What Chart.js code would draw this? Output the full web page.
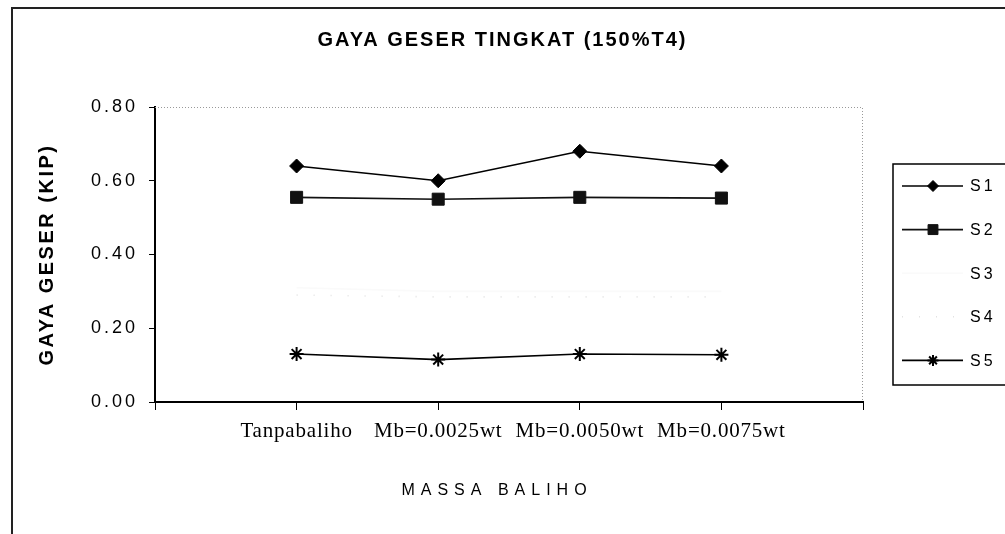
<!DOCTYPE html>
<html>
<head>
<meta charset="utf-8">
<script src="https://cdn.jsdelivr.net/npm/chart.js@4.4.1/dist/chart.umd.min.js"></script>
<style>
  html, body { margin: 0; padding: 0; background: #fff; }
  #wrap { width: 1005px; height: 534px; position: relative; }
</style>
</head>
<body>
<div id="wrap"><canvas id="chart"></canvas></div>
<script>
// values
const categories = ['Tanpabaliho', 'Mb=0.0025wt', 'Mb=0.0050wt', 'Mb=0.0075wt'];
const s1 = [0.64, 0.60, 0.68, 0.64];
const s2 = [0.555, 0.55, 0.555, 0.553];
const s3 = [0.31, 0.30, 0.30, 0.30];
const s4 = [0.29, 0.285, 0.285, 0.285];
const s5 = [0.13, 0.115, 0.13, 0.128];
const yTicks = [0, 0.2, 0.4, 0.6, 0.8];

const seriesNames = ['S1', 'S2', 'S3', 'S4', 'S5'];
const seriesValues = [s1, s2, s3, s4, s5];
const seriesStyles = [
    {color: '#000', point: 'rectRot', radius: 7},
    {color: '#111', point: 'rect', radius: 8.5},
    {color: '#fafafa', point: false, radius: 0},
    {color: '#e2e2e2', point: false, radius: 0, dash: [1, 16]},
    {color: '#000', point: 'star', radius: 7}
];

const sans = '"Liberation Sans", Arial, sans-serif';
const serif = '"Liberation Serif", "Times New Roman", serif';

const datasets = seriesNames.map((name, i) => {
    const st = seriesStyles[i];
    return {
        label: name,
        data: seriesValues[i].map((v, j) => ({x: j + 1, y: v})),
        borderColor: st.color,
        backgroundColor: st.color,
        borderWidth: 1.6,
        borderDash: st.dash || [],
        pointStyle: st.point,
        pointRadius: st.radius,
        pointBackgroundColor: st.color,
        pointBorderColor: st.color,
        pointBorderWidth: st.point === 'star' ? 2 : 1,
        tension: 0
    };
});

// canvas letterSpacing (and a small shift) for the spaced-out texts of the scan
function spaced(obj, name, ls, dx) {
    const orig = obj[name];
    obj[name] = function (...args) {
        this.ctx.save();
        this.ctx.letterSpacing = ls;
        if (dx) this.ctx.translate(dx, 0);
        orig.apply(this, args);
        this.ctx.restore();
    };
}

const framePlugin = {
    id: 'frame',
    beforeDraw(chart) {
        const ctx = chart.ctx;
        if (!chart.$spaced) {
            chart.$spaced = true;
            spaced(chart.titleBlock, 'draw', '2px');
            spaced(chart.scales.y, 'drawLabels', '3px');
            spaced(chart.scales.y, 'drawTitle', '2.5px');
            spaced(chart.scales.x, 'drawLabels', '0.8px');
            spaced(chart.scales.x, 'drawTitle', '6px', -12);
        }
        ctx.save();
        ctx.fillStyle = '#fff';
        ctx.fillRect(0, 0, chart.width, chart.height);
        ctx.strokeStyle = '#222';
        ctx.lineWidth = 2;
        ctx.beginPath();
        ctx.moveTo(12, chart.height);
        ctx.lineTo(12, 8);
        ctx.lineTo(chart.width, 8);
        ctx.stroke();
        ctx.restore();
    },
    beforeDatasetsDraw(chart) {
        const {ctx, chartArea: a} = chart;
        ctx.save();
        ctx.strokeStyle = '#999';
        ctx.lineWidth = 1;
        ctx.setLineDash([1, 2]);
        ctx.beginPath();
        ctx.moveTo(a.left, a.top + 0.5);
        ctx.lineTo(a.right - 0.5, a.top + 0.5);
        ctx.lineTo(a.right - 0.5, a.bottom);
        ctx.stroke();
        ctx.restore();
    },
    afterDraw(chart) {
        const ctx = chart.ctx;
        ctx.save();
        ctx.strokeStyle = '#000';
        ctx.lineWidth = 1.5;
        ctx.strokeRect(893, 164, 130, 221);
        chart.data.datasets.forEach((ds, i) => {
            const y = 186 + i * 43.6;
            ctx.strokeStyle = ds.borderColor;
            ctx.lineWidth = ds.borderWidth;
            ctx.setLineDash(ds.borderDash);
            ctx.beginPath();
            ctx.moveTo(902, y);
            ctx.lineTo(963, y);
            ctx.stroke();
            ctx.setLineDash([]);
            if (ds.pointStyle && ds.pointRadius) {
                ctx.fillStyle = ds.pointBackgroundColor;
                ctx.strokeStyle = ds.pointBorderColor;
                ctx.lineWidth = ds.pointBorderWidth;
                Chart.helpers.drawPoint(ctx, {
                    pointStyle: ds.pointStyle, rotation: 0,
                    radius: ds.pointRadius - 1.5, borderWidth: ds.pointBorderWidth
                }, 933, y);
            }
            ctx.fillStyle = '#000';
            ctx.font = '16px ' + sans;
            ctx.letterSpacing = '3px';
            ctx.textBaseline = 'middle';
            ctx.fillText(ds.label, 970, y + 1);
        });
        ctx.restore();
    }
};

new Chart(document.getElementById('chart'), {
    type: 'line',
    data: {datasets: datasets},
    plugins: [framePlugin],
    options: {
        responsive: true,
        maintainAspectRatio: false,
        animation: false,
        layout: {padding: 0},
        plugins: {
            legend: {display: false},
            tooltip: {enabled: false},
            title: {
                display: true,
                text: 'GAYA GESER TINGKAT (150%T4)',
                color: '#000',
                font: {family: sans, size: 20, weight: 'bold'},
                padding: {top: 28, bottom: 55}
            }
        },
        scales: {
            x: {
                type: 'linear',
                min: 0,
                max: categories.length + 1,
                ticks: {
                    stepSize: 1,
                    autoSkip: false,
                    maxRotation: 0,
                    color: '#000',
                    padding: 9,
                    font: {family: serif, size: 21},
                    callback: v => categories[v - 1] || ''
                },
                grid: {drawOnChartArea: false, color: '#000', tickLength: 8},
                border: {color: '#000', width: 2},
                title: {
                    display: true,
                    text: 'MASSA BALIHO',
                    color: '#000',
                    font: {family: sans, size: 16},
                    padding: {top: 0, bottom: 34}
                },
                afterFit(s) { s.height = 132; }
            },
            y: {
                min: yTicks[0],
                max: yTicks[yTicks.length - 1],
                ticks: {
                    stepSize: 0.2,
                    color: '#000',
                    padding: 11,
                    font: {family: sans, size: 18},
                    callback: v => v.toFixed(2)
                },
                grid: {drawOnChartArea: false, color: '#000', tickLength: 6},
                border: {color: '#000', width: 2},
                title: {
                    display: true,
                    text: 'GAYA GESER (KIP)',
                    color: '#000',
                    font: {family: sans, size: 20, weight: 'bold'},
                    padding: {top: 35, bottom: 0}
                },
                afterFit(s) { s.width = 155; }
            },
            y2: {
                position: 'right',
                min: 0,
                max: 1,
                grid: {display: false},
                border: {display: false},
                ticks: {display: false},
                afterFit(s) { s.width = 142; }
            }
        }
    }
});
</script>
</body>
</html>
